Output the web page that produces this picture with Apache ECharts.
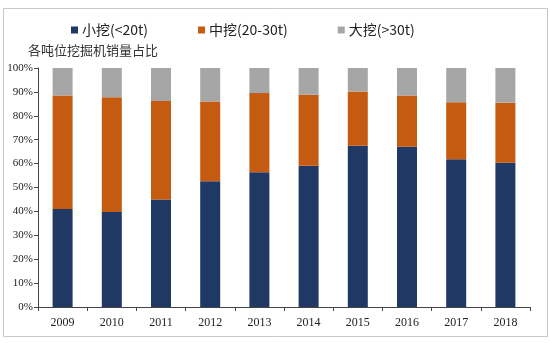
<!DOCTYPE html>
<html><head><meta charset="utf-8">
<script src="https://cdn.jsdelivr.net/npm/echarts@6/dist/echarts.min.js"></script>
<style>html,body{margin:0;padding:0;background:#fff}#c{width:550px;height:343px}</style>
</head><body><div id="c"></div>
<script>
const years = ['2009','2010','2011','2012','2013','2014','2015','2016','2017','2018'];
const small = [41.0, 39.8, 45.0, 52.6, 56.4, 59.1, 67.5, 67.1, 61.8, 60.4];
const mid   = [47.5, 48.0, 41.2, 33.4, 33.1, 29.7, 22.7, 21.4, 23.9, 25.1];
const large = [11.5, 12.2, 13.8, 14.0, 10.5, 11.2,  9.8, 11.5, 14.3, 14.5];
const seriesNames = ['小挖(<20t)', '中挖(20-30t)', '大挖(>30t)'];
const yTicks = [0,10,20,30,40,50,60,70,80,90,100];

const chart = echarts.init(document.getElementById('c'));
const cjk = '"Noto Sans CJK SC", sans-serif';
const serif = '"Liberation Serif", "Times New Roman", serif';
chart.setOption({
  animation: false,
  graphic: [
    {type:'rect', shape:{x:3.5,y:8.5,width:544,height:328}, style:{fill:'none', stroke:'#c8c8c8', lineWidth:1}, z:-1},
    {type:'text', left:28, top:44, style:{text:'各吨位挖掘机销量占比', font:'13px ' + cjk, fill:'#333'}}
  ],
  legend: {
    left: 66, top: 18, itemWidth: 7, itemHeight: 7, itemGap: 50,
    icon: 'rect',
    textStyle: {fontFamily: cjk, fontSize: 14, color: '#222', padding:[0,0,0,-1]},
    data: seriesNames
  },
  grid: {left: 38, right: 20, top: 68, bottom: 36},
  xAxis: {
    type: 'category', data: years,
    axisLine: {lineStyle: {color: '#444'}},
    axisTick: {show: true, length: 4, lineStyle:{color:'#444'}},
    axisLabel: {fontFamily: serif, fontSize: 12, color: '#222', margin: 10}
  },
  yAxis: {
    type: 'value', min: 0, max: 100, interval: 10,
    splitLine: {show: false},
    axisLine: {show: true, lineStyle: {color: '#444'}},
    axisTick: {show: true, length: 4, lineStyle:{color:'#444'}},
    axisLabel: {fontFamily: serif, fontSize: 11, color: '#222', margin: 5,
      formatter: v => yTicks.includes(v) ? v + '%' : ''}
  },
  series: [
    {name: seriesNames[0], type: 'bar', stack: 'a', data: small, barWidth: 20, itemStyle: {color: '#203864'}},
    {name: seriesNames[1], type: 'bar', stack: 'a', data: mid, barWidth: 20, itemStyle: {color: '#c55a11'}},
    {name: seriesNames[2], type: 'bar', stack: 'a', data: large, barWidth: 20, itemStyle: {color: '#a6a6a6'}}
  ]
});
</script></body></html>
